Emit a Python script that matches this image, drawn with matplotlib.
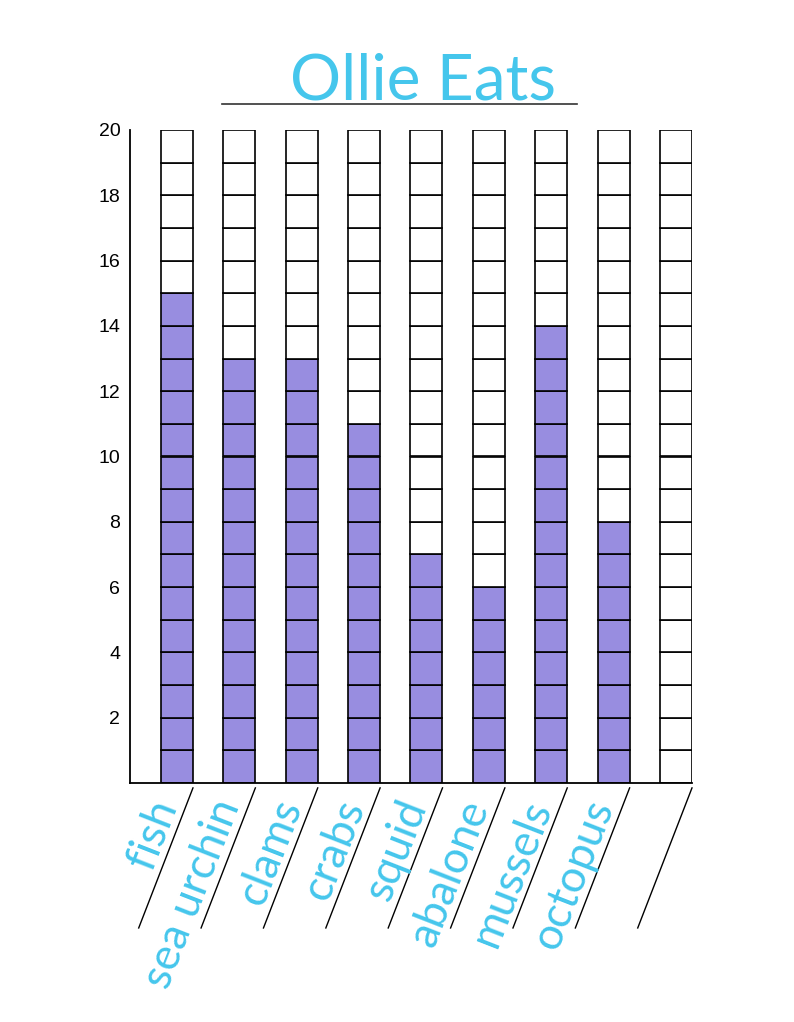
import matplotlib
matplotlib.use("Agg")
from matplotlib import pyplot as plt
from matplotlib.lines import Line2D

foods = ['fish', 'sea urchin', 'clams', 'crabs', 'squid', 'abalone',
         'mussels', 'octopus', '']
counts = [15, 13, 13, 11, 7, 6, 14, 8, 0]
yticks = [2, 4, 6, 8, 10, 12, 14, 16, 18, 20]
n_cells = 20

purple = '#988de0'
cyan = '#45c6ec'

fig = plt.figure(figsize=(7.94, 10.22), dpi=100)
ax = fig.add_axes([130 / 794, 1 - 783 / 1022, (692 - 130) / 794, (783 - 130) / 1022])

# Each column is a stack of unit cells, coloured up to the count
width = 0.513
for i, c in enumerate(counts):
    for level in range(n_cells):
        face = purple if level < c else 'white'
        ax.bar(i, 1, bottom=level, width=width, color=face,
               edgecolor='black', linewidth=1.2, zorder=2)

ax.set_xlim(-0.753, len(foods) - 1 + width / 2)
ax.set_ylim(0, n_cells)

ax.spines['top'].set_visible(False)
ax.spines['right'].set_visible(False)
ax.spines['left'].set_linewidth(1.3)
ax.spines['bottom'].set_linewidth(1.3)
ax.set_xticks([])
ax.set_yticks(yticks)
ax.set_yticklabels([str(t) for t in yticks], fontsize=14, family='Liberation Sans')
ax.tick_params(axis='y', length=0, pad=7)

# Slanted writing lines under each column, with the labels written along them
dx, y_top, y_bot = -0.87, -0.15, -4.44
for i, name in enumerate(foods):
    xr = i + width / 2
    ax.plot([xr, xr + dx], [y_top, y_bot], color='black', linewidth=1.0,
            clip_on=False, zorder=3)
    if name:
        t = 0.15
        ax.text(xr + dx * t, y_top + (y_bot - y_top) * t, name,
                rotation=68.7, rotation_mode='anchor', ha='right', va='bottom',
                fontsize=32, color=cyan, family='Lato', clip_on=False)

# Title and its underline
fig.text(423 / 794, 1 - 100 / 1022, 'Ollie Eats', ha='center', va='baseline',
         fontsize=46, color=cyan, family='Lato')
fig.add_artist(Line2D([222 / 794, 577 / 794], [1 - 104 / 1022, 1 - 104 / 1022],
                      color='#333333', linewidth=1.2))

fig.savefig('out.png', dpi=100)
